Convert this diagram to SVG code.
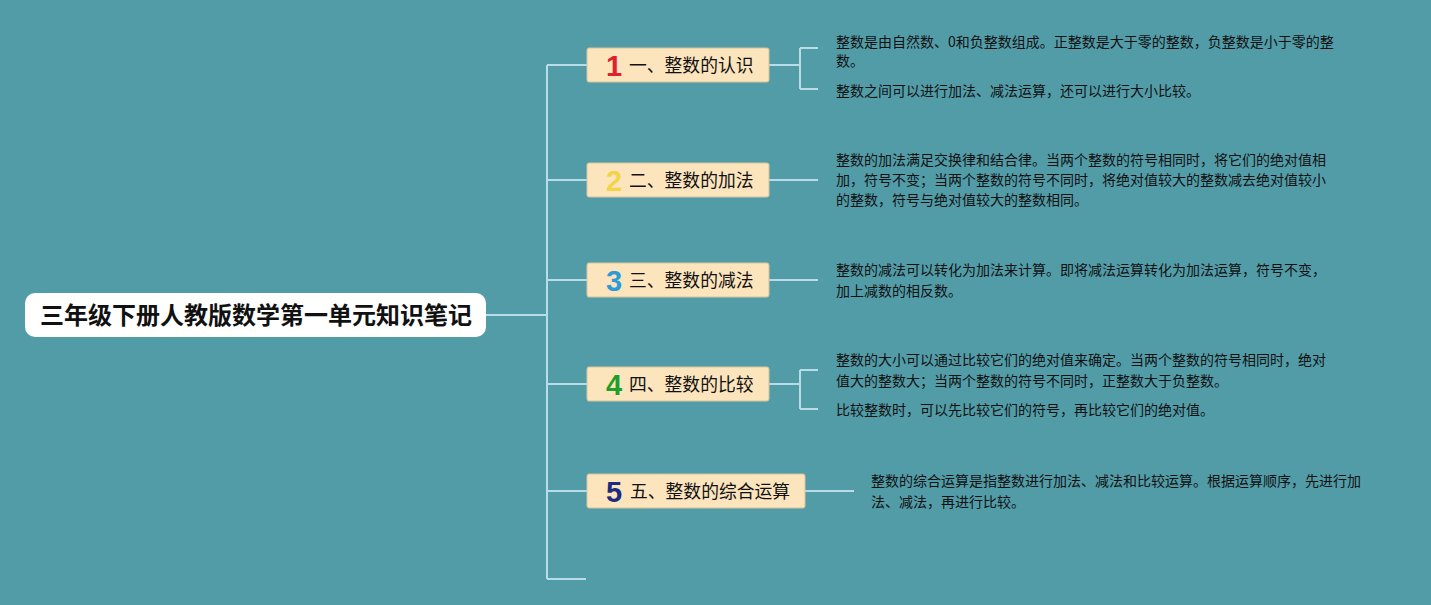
<svg xmlns="http://www.w3.org/2000/svg" width="1431" height="605" viewBox="0 0 1431 605">
<style>
.bg{fill:#529ca8}
.conn{fill:none;stroke:#b8dde8;stroke-width:2}
.root{fill:#ffffff}
.roott{font-family:"Noto Sans CJK SC",sans-serif;font-weight:bold;font-size:24px;fill:#111}
.box{fill:#fce4bd;stroke:#d8c39a;stroke-width:1}
.lbl{font-family:"Noto Sans CJK SC",sans-serif;font-size:17.8px;fill:#111}
.num{font-family:"Liberation Sans","Noto Sans",sans-serif;font-weight:bold;font-size:29px;text-anchor:middle}
.txt{font-family:"Noto Sans CJK SC",sans-serif;font-size:14px;fill:#111}
</style>
<rect class="bg" width="1431" height="605"/>
<g id="connectors">
<path class="conn" d="M486 315H547M547 65V579M547 65H587M547 180H587M547 280H587M547 384H587M547 491H587M547 579H586"/>
<path class="conn" d="M769 65H800M800 48V89M800 48H818M800 89H818"/>
<path class="conn" d="M769 180H818"/>
<path class="conn" d="M769 280H818"/>
<path class="conn" d="M769 384H800M800 370V409M800 370H818M800 409H818"/>
<path class="conn" d="M805 491H854"/>
</g>
<g id="root">
<rect class="root" x="25" y="293" width="461" height="44" rx="10"/>
<text class="roott" x="256" y="324" text-anchor="middle">三年级下册人教版数学第一单元知识笔记</text>
</g>
<g id="n1">
<rect class="box" x="587" y="48" width="182" height="34" rx="2"/>
<text class="num" x="614" y="76" fill="#e0202a">1</text>
<text class="lbl" x="629" y="72">一、整数的认识</text>
</g>
<g id="n1a">
<text class="txt" x="836" y="47">整数是由自然数、0和负整数组成。正整数是大于零的整数，负整数是小于零的整</text>
<text class="txt" x="836" y="66">数。</text>
</g>
<g id="n1b">
<text class="txt" x="836" y="96">整数之间可以进行加法、减法运算，还可以进行大小比较。</text>
</g>
<g id="n2">
<rect class="box" x="587" y="163" width="182" height="34" rx="2"/>
<text class="num" x="614" y="191" fill="#f3d449">2</text>
<text class="lbl" x="629" y="187">二、整数的加法</text>
</g>
<g id="n2a">
<text class="txt" x="836" y="165">整数的加法满足交换律和结合律。当两个整数的符号相同时，将它们的绝对值相</text>
<text class="txt" x="836" y="185">加，符号不变；当两个整数的符号不同时，将绝对值较大的整数减去绝对值较小</text>
<text class="txt" x="836" y="205">的整数，符号与绝对值较大的整数相同。</text>
</g>
<g id="n3">
<rect class="box" x="587" y="263" width="182" height="34" rx="2"/>
<text class="num" x="614" y="291" fill="#2b9bd9">3</text>
<text class="lbl" x="629" y="287">三、整数的减法</text>
</g>
<g id="n3a">
<text class="txt" x="836" y="275">整数的减法可以转化为加法来计算。即将减法运算转化为加法运算，符号不变，</text>
<text class="txt" x="836" y="296">加上减数的相反数。</text>
</g>
<g id="n4">
<rect class="box" x="587" y="367" width="182" height="34" rx="2"/>
<text class="num" x="614" y="395" fill="#1f9e2a">4</text>
<text class="lbl" x="629" y="391">四、整数的比较</text>
</g>
<g id="n4a">
<text class="txt" x="836" y="365">整数的大小可以通过比较它们的绝对值来确定。当两个整数的符号相同时，绝对</text>
<text class="txt" x="836" y="386">值大的整数大；当两个整数的符号不同时，正整数大于负整数。</text>
</g>
<g id="n4b">
<text class="txt" x="836" y="415">比较整数时，可以先比较它们的符号，再比较它们的绝对值。</text>
</g>
<g id="n5">
<rect class="box" x="587" y="474" width="218" height="34" rx="2"/>
<text class="num" x="614" y="502" fill="#1c2a80">5</text>
<text class="lbl" x="630" y="498">五、整数的综合运算</text>
</g>
<g id="n5a">
<text class="txt" x="871" y="486">整数的综合运算是指整数进行加法、减法和比较运算。根据运算顺序，先进行加</text>
<text class="txt" x="871" y="507">法、减法，再进行比较。</text>
</g>
</svg>
